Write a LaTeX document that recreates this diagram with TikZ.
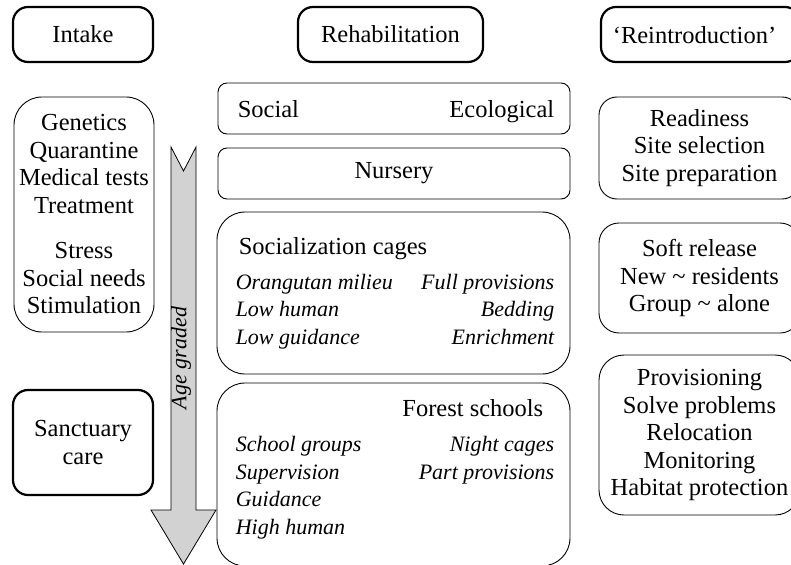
\documentclass[tikz,border=0pt]{standalone}
\usepackage{fontspec}
\setmainfont{Liberation Serif}
\usepackage{tikz}
\usetikzlibrary{positioning}
\usetikzlibrary{calc}

\newcommand{\bodyfont}{\fontsize{24.5}{27.5}\selectfont}
\newcommand{\slantfont}{\fontsize{22}{27.5}\selectfont\itshape}
\tikzstyle{headbox} = [draw, line width=2.2pt, rounded corners=15pt, inner sep=0pt, align=center]
\tikzstyle{panel} = [draw, line width=0.9pt, inner sep=0pt, align=center]
\tikzstyle{txt} = [inner sep=0pt, font=\bodyfont]
\tikzstyle{itxt} = [inner sep=0pt, font=\slantfont]

\begin{document}
\begin{tikzpicture}[x=1pt, y=-1pt, every node/.style={font=\bodyfont}]
    \useasboundingbox (0,0) rectangle (791,564);
    \clip (0,0) rectangle (791,564);

    % column heads
    \node[headbox, minimum width=140, minimum height=55] (intake) at (83,34.5) {Intake};
    \node[headbox, minimum width=185, minimum height=55] (rehab) at (390.5,34.5) {Rehabilitation};
    \node[headbox, minimum width=199, minimum height=55] (reintro) at (700.5,34.5) {};
    \node[txt, anchor=base] (reintrolabel) at ($(reintro.south)+(-6,-19.5)$) {‘Reintroduction’};

    % intake column
    \node[panel, rounded corners=28, minimum width=140, minimum height=235] (intakelist) at (84,214.5)
        {Genetics\\Quarantine\\Medical tests\\Treatment\\[18pt]Stress\\Social needs\\Stimulation};
    \node[headbox, minimum width=140, minimum height=105] (sanctuary) at (83,442.5) {Sanctuary\\care};

    % age arrow
    \draw[fill=gray!35, line width=0.8pt] (171,147) -- (183.5,171) -- (196,147) -- (196,510)
        -- (216,510) -- (183.5,564) -- (151,510) -- (171,510) -- cycle;
    \node[itxt, rotate=90] (agegraded) at (181,358) {Age graded};

    % rehabilitation column
    \node[panel, rounded corners=9, minimum width=352, minimum height=51] (socialeco) at (394,108.5) {};
    \node[txt, anchor=base west] (social) at ($(socialeco.south west)+(20,-17)$) {Social};
    \node[txt, anchor=base east] (ecological) at ($(socialeco.south east)+(-16,-17)$) {Ecological};

    \node[panel, rounded corners=9, minimum width=352, minimum height=51] (nursery) at (394,173.5) {Nursery};

    \node[panel, rounded corners=28, minimum width=353, minimum height=162] (cages) at (393.5,293) {};
    \node[txt, anchor=base west] (cageslabel) at ($(cages.north west)+(22,43)$) {Socialization cages};
    \foreach \t [count=\i] in {Orangutan milieu, Low human, Low guidance}
        \node[itxt, anchor=base west] (cagesL\i) at ($(cages.north west)+(19,50+27.5*\i)$) {\t};
    \foreach \t [count=\i] in {Full provisions, Bedding, Enrichment}
        \node[itxt, anchor=base east] (cagesR\i) at ($(cages.north east)+(-16,50+27.5*\i)$) {\t};

    \node[panel, rounded corners=28, minimum width=353, minimum height=183] (forest) at (393.5,474.5) {};
    \node[txt, anchor=base east] (forestlabel) at ($(forest.north east)+(-27,34)$) {Forest schools};
    \foreach \t [count=\i] in {School groups, Supervision, Guidance, High human}
        \node[itxt, anchor=base west] (forestL\i) at ($(forest.north west)+(19,41.5+27.5*\i)$) {\t};
    \foreach \t [count=\i] in {Night cages, Part provisions}
        \node[itxt, anchor=base east] (forestR\i) at ($(forest.north east)+(-16,41.5+27.5*\i)$) {\t};

    % reintroduction column
    \node[panel, rounded corners=18, minimum width=201, minimum height=102] (readiness) at (699.5,148)
        {Readiness\\Site selection\\Site preparation};
    \node[panel, rounded corners=20, minimum width=201, minimum height=110] (release) at (699.5,278)
        {Soft release\\New \textasciitilde{} residents\\Group \textasciitilde{} alone};
    \node[panel, rounded corners=25, minimum width=201, minimum height=160] (monitor) at (699.5,435)
        {Provisioning\\Solve problems\\Relocation\\Monitoring\\Habitat protection};
\end{tikzpicture}
\end{document}
